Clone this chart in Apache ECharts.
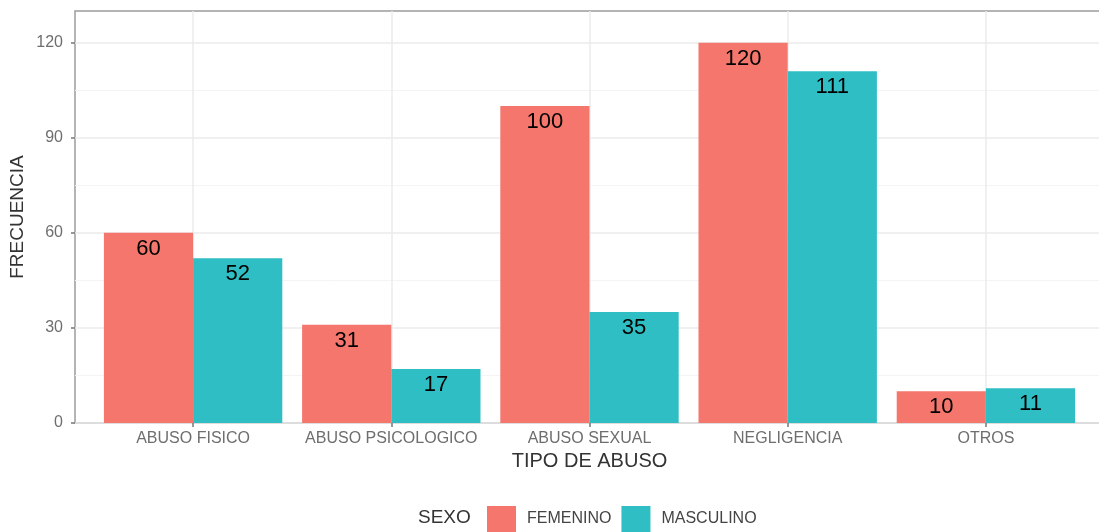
<!DOCTYPE html>
<html>
<head>
<meta charset="utf-8">
<script src="https://cdn.jsdelivr.net/npm/echarts@6/dist/echarts.min.js"></script>
<style>
html,body{margin:0;padding:0;background:#fff;}
#chart{width:1099px;height:532px;}
</style>
</head>
<body>
<div id="chart"></div>
<script>
const categories = ['ABUSO FISICO', 'ABUSO PSICOLOGICO', 'ABUSO SEXUAL', 'NEGLIGENCIA', 'OTROS'];
const femenino = [60, 31, 100, 120, 10];
const masculino = [52, 17, 35, 111, 11];
const seriesNames = ['FEMENINO', 'MASCULINO'];
const yTicks = [0, 30, 60, 90, 120];

const FONT = 'Liberation Sans, Arial, Helvetica, sans-serif';
const chart = echarts.init(document.getElementById('chart'));

const labelStyle = {
  show: true,
  position: 'insideTop',
  distance: 5,
  fontSize: 22,
  color: '#000',
  fontFamily: FONT
};

chart.setOption({
  animation: false,
  backgroundColor: '#fff',
  title: {
    text: 'SEXO',
    left: 418,
    top: 508,
    padding: 0,
    textStyle: { fontSize: 19, fontWeight: 'normal', color: '#333', fontFamily: FONT }
  },
  legend: {
    data: seriesNames,
    left: 487,
    top: 506,
    padding: 0,
    itemWidth: 29,
    itemHeight: 26,
    itemGap: 10,
    icon: 'rect',
    textStyle: { fontSize: 16, color: '#444', fontFamily: FONT, padding: [0, 0, 0, 6] }
  },
  grid: [
    { left: 75, top: 11, right: -30, bottom: 109, outerBoundsMode: 'none', containLabel: false, show: true, borderColor: '#9c9c9c', borderWidth: 1.5, backgroundColor: 'transparent' },
    { left: 94, top: 11, right: 14, bottom: 109, outerBoundsMode: 'none', containLabel: false }
  ],
  xAxis: [
    { type: 'value', gridIndex: 0, min: 0, max: 1, show: false },
    {
      type: 'category', gridIndex: 1, data: categories,
      axisLine: { show: false },
      axisTick: { show: true, alignWithLabel: true, length: 4, lineStyle: { color: '#777', width: 1.5 } },
      axisLabel: { interval: 0, hideOverlap: false, fontSize: 16, color: '#6e6e6e', fontFamily: FONT, margin: 8 },
      splitLine: { show: true, alignWithLabel: true, lineStyle: { color: '#ebebeb', width: 1.5 } },
      name: 'TIPO DE ABUSO',
      nameLocation: 'middle',
      nameGap: 28,
      nameMoveOverlap: false,
      nameTextStyle: { fontSize: 20, color: '#333', fontFamily: FONT }
    }
  ],
  yAxis: [
    {
      type: 'value', gridIndex: 0, min: 0, max: 130, interval: 30,
      axisLine: { show: false },
      axisTick: { show: true, length: 4, lineStyle: { color: '#777', width: 1.5 },
        customValues: yTicks },
      axisLabel: { fontSize: 16, color: '#6e6e6e', fontFamily: FONT, margin: 12, customValues: yTicks },
      splitLine: { show: true, lineStyle: { color: '#ebebeb', width: 1.5 } },
      minorTick: { show: false, splitNumber: 2 },
      minorSplitLine: { show: true, lineStyle: { color: '#f4f4f4', width: 1 } },
      name: 'FRECUENCIA',
      nameLocation: 'middle',
      nameRotate: 90,
      nameGap: 48,
      nameMoveOverlap: false,
      nameTextStyle: { fontSize: 19, color: '#333', fontFamily: FONT }
    },
    { type: 'value', gridIndex: 1, min: 0, max: 130, show: false }
  ],
  series: [
    {
      name: seriesNames[0], type: 'bar', xAxisIndex: 1, yAxisIndex: 1,
      data: femenino, barGap: '0%', barCategoryGap: '10%',
      itemStyle: { color: '#F4766C' }, label: labelStyle
    },
    {
      name: seriesNames[1], type: 'bar', xAxisIndex: 1, yAxisIndex: 1,
      data: masculino, barGap: '0%', barCategoryGap: '10%',
      itemStyle: { color: '#2EBEC4' }, label: labelStyle
    }
  ]
});
</script>
</body>
</html>
